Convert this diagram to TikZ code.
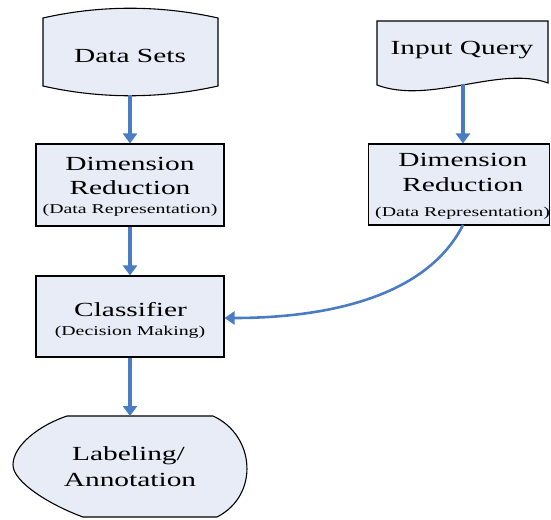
\documentclass[tikz,border=0pt]{standalone}
\usepackage{fontspec}
\usetikzlibrary{arrows.meta}
\newfontfamily\tnr[FakeStretch=1.47]{Liberation Serif}
\definecolor{boxfill}{HTML}{E7ECF7}
\definecolor{arrowblue}{HTML}{4A7CC6}
\tikzset{
  shapeline/.style={draw=black, line width=1.1pt, fill=boxfill},
  boxnode/.style={shapeline, rectangle, inner sep=0pt},
  bigtxt/.style={anchor=base, inner sep=0pt, font=\tnr\fontsize{20}{24}\selectfont},
  smalltxt/.style={anchor=base, inner sep=0pt, font=\tnr\fontsize{13.5}{16}\selectfont},
  flow/.style={draw=arrowblue, line width=3.6pt, -{Triangle[width=14pt,length=10pt]}},
  curveflow/.style={draw=arrowblue, line width=2.6pt, -{Triangle[width=13pt,length=10pt]}}
}
\begin{document}
\begin{tikzpicture}[x=1pt,y=-1pt]
\useasboundingbox (0,0) rectangle (551,519);
% Data Sets shape
\draw[shapeline] (43,18) .. controls (100,5) and (160,5) .. (218,18)
  -- (218,86) .. controls (160,99) and (100,99) .. (43,86) -- cycle;
\coordinate (dsbot) at (130,95);
\node[bigtxt] (dstxt) at (130,63) {Data Sets};
% Input Query shape
\draw[shapeline] (377,21) -- (548,21) -- (548,83)
  .. controls (500,65) and (430,105) .. (377,85) -- cycle;
\coordinate (iqbot) at (463,84);
\node[bigtxt] (iqtxt) at (462,55) {Input Query};
% Dimension reduction boxes
\node[boxnode, minimum width=188pt, minimum height=82pt] (dr1) at (130,185) {};
\node[bigtxt] (dr1a) at (130,170) {Dimension};
\node[bigtxt] (dr1b) at (130,194) {Reduction};
\node[smalltxt] (dr1c) at (130,213.5) {(Data Representation)};
\node[boxnode, minimum width=181pt, minimum height=81pt] (dr2) at (459,184.5) {};
\node[bigtxt] (dr2a) at (462.8,166) {Dimension};
\node[bigtxt] (dr2b) at (462.8,191) {Reduction};
\node[smalltxt] (dr2c) at (462.5,216.5) {(Data Representation)};
% Classifier
\node[boxnode, minimum width=188pt, minimum height=81pt] (cl) at (130,316.5) {};
\node[bigtxt] (cla) at (130.5,316) {Classifier};
\node[smalltxt] (clb) at (130,335) {(Decision Making)};
% Labeling / Annotation display shape
\draw[shapeline] (67,416) -- (213,416)
  .. controls (255,435) and (260,495) .. (217,517) -- (83,517)
  .. controls (50,505) and (13,482) .. (13,465)
  .. controls (13,445) and (40,425) .. (67,416) -- cycle;
\coordinate (labtop) at (130,416);
\node[bigtxt] (laba) at (128.5,460) {Labeling/};
\node[bigtxt] (labb) at (130,486) {Annotation};
% Connectors
\draw[flow] (dsbot) -- (dr1.north);
\draw[flow] (dr1.south) -- (cl.north);
\draw[flow] (cl.south) -- (labtop);
\draw[flow] (iqbot) -- (dr2.north -| iqbot);
\coordinate (dr2out) at (463,225);
\draw[curveflow] (dr2out) .. controls (425,300) and (320,318) .. (cl.east |- 0,318);
\end{tikzpicture}
\end{document}
